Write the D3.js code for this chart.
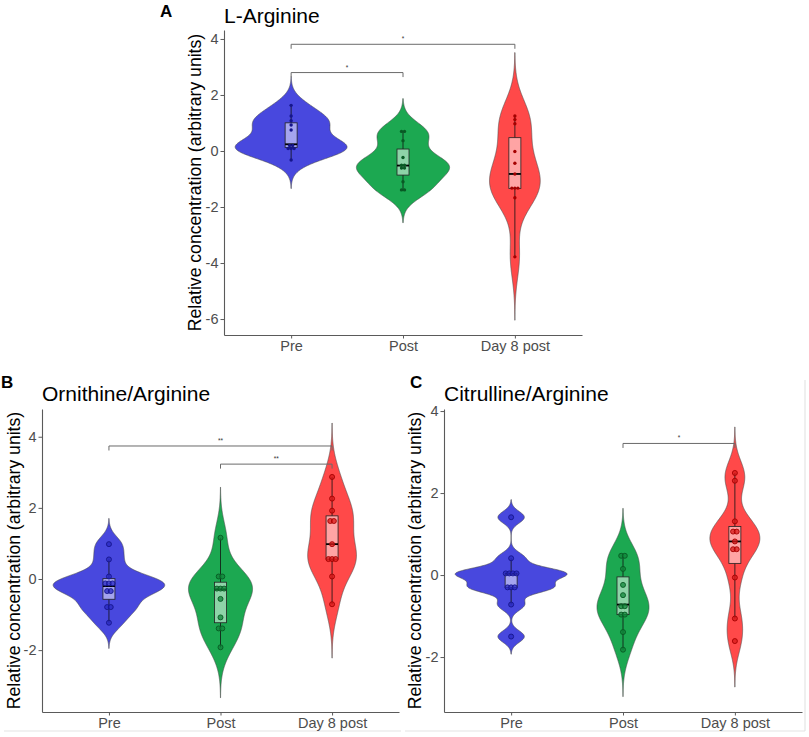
<!DOCTYPE html>
<html><head><meta charset="utf-8">
<script src="https://cdn.jsdelivr.net/npm/d3@7"></script>
<style>
body{margin:0;background:#fff}
svg{display:block;font-family:"Liberation Sans",Arial,Helvetica,sans-serif}
</style>
</head><body>
<svg id="chart" width="809" height="737"></svg>
<script>
// ---------------- data ----------------
const categories = ["Pre", "Post", "Day 8 post"];

// Panel A: L-Arginine
const argPre   = [1.63, 1.25, 1.08, 0.93, 0.75, 0.24, 0.15, 0.13, 0.12, 0.05, -0.32];
const argPost  = [0.71, 0.69, 0.37, -0.23, -0.50, -0.52, -0.60, -0.62, -1.10, -1.38, -1.40];
const argDay8  = [1.25, 1.12, 0.97, -0.02, -0.44, -0.82, -1.30, -1.33, -1.35, -1.67, -3.78];

// Panel B: Ornithine/Arginine
const ornPre   = [0.98, 0.55, 0.07, -0.05, -0.10, -0.20, -0.32, -0.36, -0.78, -0.80, -1.23];
const ornPost  = [1.16, 0.07, 0.07, -0.25, -0.27, -0.29, -0.56, -1.08, -1.38, -1.40, -1.92];
const ornDay8  = [2.87, 2.26, 1.92, 1.63, 1.63, 0.98, 0.56, 0.56, 0.56, 0.07, -0.71];

// Panel C: Citrulline/Arginine
const citPre   = [1.41, 0.41, 0.05, 0.04, 0.04, 0.03, -0.30, -0.30, -0.30, -0.72, -1.50];
const citPost  = [0.48, 0.46, 0.15, -0.24, -0.49, -0.72, -0.80, -0.95, -0.98, -1.39, -1.82];
const citDay8  = [2.49, 2.30, 1.31, 1.06, 1.06, 0.82, 0.63, 0.63, -0.06, -1.06, -1.61];

const yTicksA = [-6, -4, -2, 0, 2, 4];
const yTicksB = [-2, 0, 2, 4];
const yTicksC = [-2, 0, 2, 4];

const yDomainA = [-6.57, 4.32];
const yDomainB = [-3.74, 4.78];
const yDomainC = [-3.34, 4.05];

const sigA = [["Pre", "Post", 2.8, "*"], ["Pre", "Day 8 post", 3.81, "*"]];
const sigB = [["Pre", "Day 8 post", 3.74, "**"], ["Post", "Day 8 post", 3.23, "**"]];
const sigC = [["Post", "Day 8 post", 3.21, "*"]];

const titles = ["L-Arginine", "Ornithine/Arginine", "Citrulline/Arginine"];
const letters = ["A", "B", "C"];
const yLabel = "Relative concentration (arbitrary units)";

// ---------------- style / layout ----------------
const fills   = ["#4848DE", "#1CA851", "#FF4949"];
const dotDark = ["#15158C", "#085A24", "#A50000"];
const dotFill = ["#2A2AC2", "#10853A", "#D81A1A"];

const panels = [
  {groups:[argPre,argPost,argDay8], ticks:yTicksA, dom:yDomainA, sig:sigA,
   left:224, right:582, top:30, bottom:335, letterX:160, letterY:17, titleY:23, ylabX:201,
   dotR:1.7, dotGap:3.0, ring:false, binDiv:60},
  {groups:[ornPre,ornPost,ornDay8], ticks:yTicksB, dom:yDomainB, sig:sigB,
   left:42, right:399, top:409, bottom:712, letterX:1, letterY:388, titleY:401, ylabX:20,
   dotR:2.5, dotGap:3.6, ring:true, binDiv:30},
  {groups:[citPre,citPost,citDay8], ticks:yTicksC, dom:yDomainC, sig:sigC,
   left:444, right:802, top:409, bottom:712, letterX:410, letterY:388, titleY:401, ylabX:421,
   dotR:2.5, dotGap:3.6, ring:true, binDiv:30}
];

const svg = d3.select("#chart");

// light frame lines around lower panels
const frame = svg.append("g").attr("stroke", "#e4e4e4").attr("stroke-width", 1.2);
frame.append("line").attr("x1", 4).attr("x2", 401).attr("y1", 731).attr("y2", 731);
frame.append("line").attr("x1", 405).attr("x2", 805).attr("y1", 731).attr("y2", 731);
frame.append("line").attr("x1", 805).attr("x2", 805).attr("y1", 380).attr("y2", 731);

function kde(vals) {
  const n = vals.length;
  const sd = d3.deviation(vals);
  const iqr = d3.quantile(vals, 0.75) - d3.quantile(vals, 0.25);
  const lo = Math.min(sd, iqr / 1.34);
  const bw = 0.9 * lo * Math.pow(n, -0.2);
  const mn = d3.min(vals) - 3 * bw, mx = d3.max(vals) + 3 * bw;
  return d3.range(512).map(i => {
    const y = mn + (mx - mn) * i / 511;
    let d = 0;
    for (const v of vals) d += Math.exp(-0.5 * ((y - v) / bw) ** 2);
    return [y, d / (n * bw * Math.sqrt(2 * Math.PI))];
  });
}

function boxStats(vals) {
  const q1 = d3.quantile(vals, 0.25), med = d3.quantile(vals, 0.5), q3 = d3.quantile(vals, 0.75);
  const iqr = q3 - q1;
  const lo = d3.min(vals.filter(v => v >= q1 - 1.5 * iqr));
  const hi = d3.max(vals.filter(v => v <= q3 + 1.5 * iqr));
  return {q1, med, q3, lo, hi};
}

function dotBins(vals, bw) {
  const s = [...vals].sort((a, b) => a - b);
  const out = [];
  let i = 0;
  while (i < s.length) {
    const start = s[i], grp = [];
    while (i < s.length && s[i] < start + bw) { grp.push(s[i]); i++; }
    out.push({center: (grp[0] + grp[grp.length - 1]) / 2, count: grp.length});
  }
  return out;
}

panels.forEach((p, pi) => {
  const g = svg.append("g");
  const x = d3.scalePoint().domain(categories).range([p.left, p.right]).padding(0.6);
  const y = d3.scaleLinear().domain(p.dom).range([p.bottom, p.top]);
  const step = x.step();

  const dens = p.groups.map(kde);
  const maxD = d3.max(dens, d => d3.max(d, e => e[1]));

  // violins
  p.groups.forEach((vals, gi) => {
    const cx = x(categories[gi]);
    const area = d3.area()
      .y(d => y(d[0]))
      .x0(d => cx - d[1] / maxD * step / 2)
      .x1(d => cx + d[1] / maxD * step / 2);
    g.append("path").datum(dens[gi]).attr("d", area)
      .attr("fill", fills[gi]).attr("stroke", "#4a4a4a").attr("stroke-width", 0.6);
  });

  // boxplots
  p.groups.forEach((vals, gi) => {
    const cx = x(categories[gi]);
    const b = boxStats(vals);
    const bw = 12;
    g.append("line").attr("x1", cx).attr("x2", cx).attr("y1", y(b.q3)).attr("y2", y(b.hi))
      .attr("stroke", "#111").attr("stroke-width", 0.8);
    g.append("line").attr("x1", cx).attr("x2", cx).attr("y1", y(b.q1)).attr("y2", y(b.lo))
      .attr("stroke", "#111").attr("stroke-width", 0.8);
    g.append("rect").attr("x", cx - bw / 2).attr("width", bw)
      .attr("y", y(b.q3)).attr("height", y(b.q1) - y(b.q3))
      .attr("fill", "#fff").attr("fill-opacity", 0.5).attr("stroke", "#222").attr("stroke-width", 0.8);
    g.append("line").attr("x1", cx - bw / 2).attr("x2", cx + bw / 2).attr("y1", y(b.med)).attr("y2", y(b.med))
      .attr("stroke", "#000").attr("stroke-width", 1.8);
  });

  // dots
  const all = p.groups.flat();
  const binw = (d3.max(all) - d3.min(all)) / p.binDiv;
  p.groups.forEach((vals, gi) => {
    const cx = x(categories[gi]);
    const pts = [];
    dotBins(vals, binw).forEach(bn => {
      for (let k = 0; k < bn.count; k++) pts.push([cx + (k - (bn.count - 1) / 2) * p.dotGap, y(bn.center)]);
    });
    g.selectAll(null).data(pts).enter().append("circle")
      .attr("cx", d => d[0]).attr("cy", d => d[1]).attr("r", p.dotR)
      .attr("fill", p.ring ? dotFill[gi] : dotDark[gi])
      .attr("fill-opacity", p.ring ? 0.75 : 1)
      .attr("stroke", p.ring ? dotDark[gi] : "none").attr("stroke-width", 0.9);
  });

  // significance brackets
  p.sig.forEach(s => {
    const x1 = x(s[0]), x2 = x(s[1]), yy = y(s[2]);
    g.append("path").attr("d", `M${x1},${yy + 4.5}V${yy}H${x2}V${yy + 4.5}`)
      .attr("fill", "none").attr("stroke", "#6a6a6a").attr("stroke-width", 1);
    g.append("text").attr("x", (x1 + x2) / 2).attr("y", yy - 3).attr("text-anchor", "middle")
      .attr("font-size", 6.5).attr("fill", "#333").text(s[3]);
  });

  // axes
  const yAxis = d3.axisLeft(y).tickValues(p.ticks).tickFormat(d => String(d))
    .tickSize(3.5).tickPadding(2).tickSizeOuter(0);
  const ya = g.append("g").attr("transform", `translate(${p.left},0)`).call(yAxis);
  const xAxis = d3.axisBottom(x).tickSize(3.5).tickPadding(3).tickSizeOuter(0);
  const xa = g.append("g").attr("transform", `translate(0,${p.bottom})`).call(xAxis);
  [ya, xa].forEach(a => {
    a.select(".domain").attr("stroke", "#5a5a5a").attr("stroke-width", 1.1);
    a.selectAll(".tick line").attr("stroke", "#5a5a5a");
    a.selectAll(".tick text").attr("fill", "#4d4d4d").attr("font-size", 14.5)
      .attr("font-family", "'Liberation Sans',Arial,sans-serif");
  });
  xa.selectAll(".tick text").attr("dy", "0.71em").attr("y", 6);

  // titles and labels
  svg.append("text").attr("x", p.letterX).attr("y", p.letterY).attr("font-size", 17)
    .attr("font-weight", "bold").attr("fill", "#000").text(letters[pi]);
  svg.append("text").attr("x", p.left).attr("y", p.titleY).attr("font-size", 21)
    .attr("fill", "#000").text(titles[pi]);
  svg.append("text").attr("transform", `translate(${p.ylabX},${(p.top + p.bottom) / 2}) rotate(-90)`)
    .attr("text-anchor", "middle").attr("font-size", 17.6).attr("fill", "#000").text(yLabel);
});
</script>
</body></html>
